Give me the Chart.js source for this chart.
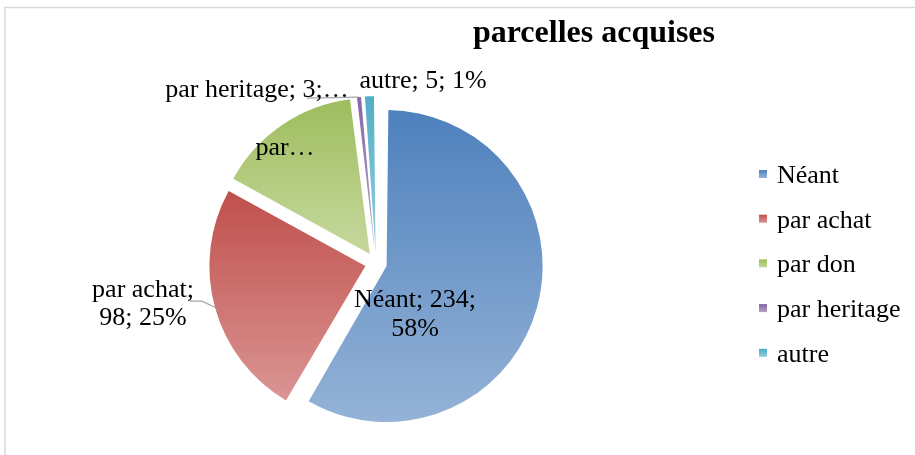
<!DOCTYPE html>
<html>
<head>
<meta charset="utf-8">
<script src="https://cdn.jsdelivr.net/npm/chart.js@4.4.1/dist/chart.umd.min.js"></script>
<style>
  body { margin: 0; background: #fff; }
  canvas { display: block; }
</style>
</head>
<body>
<canvas id="pie-chart" width="915" height="455"></canvas>
<script>
// données
const categories = ['Néant', 'par achat', 'par don', 'par heritage', 'autre'];
const values = [234, 98, 60, 3, 5];
const percents = [58, 25, 15, 1, 1];

// couleurs Excel (haut foncé -> bas clair)
const darkColors = ['#4F81BD', '#C0504D', '#9BBB59', '#8064A2', '#4BACC6'];
const lightColors = ['#95B3D7', '#DA9694', '#C4D79B', '#B3A2C7', '#93CDDD'];

const RADIUS = 156;
const OFFSET = 44;          // chart.js translate de offset / 4
const SHIFT = OFFSET / 4;
const FONT = '26px "Liberation Serif", "Times New Roman", serif';

// comment afficher chaque étiquette (coupure / troncature) et où
const labelStyle = [
    { split: [2, 1], dx: 39, dy: 44, lh: 29 },
    { split: [1, 2], dx: -233, dy: 34, lh: 28, leader: [[-186, 38], [-174, 38]] },
    { cut: 3, dx: -91, dy: -108 },
    { cut: 16, dx: -119, dy: -166, leader: [[-69, -165]] },
    { split: [3], dx: 47, dy: -175 }
];

function labelLines(i) {
    const parts = [categories[i], String(values[i]), percents[i] + '%'];
    const s = labelStyle[i];
    if (s.cut) return [parts.join('; ').slice(0, s.cut) + '…'];
    const lines = [];
    let k = 0;
    s.split.forEach((n) => {
        lines.push(parts.slice(k, k + n).join('; ') + (k + n < parts.length ? ';' : ''));
        k += n;
    });
    return lines;
}

// dégradé vertical sur la hauteur de chaque part
function sliceGradient(context) {
    const chart = context.chart;
    const area = chart.chartArea;
    const i = context.dataIndex;
    if (!area || i === undefined) return darkColors[i || 0];
    const total = values.reduce((a, b) => a + b, 0);
    const before = values.slice(0, i).reduce((a, b) => a + b, 0);
    const start = -Math.PI / 2 + before / total * 2 * Math.PI;
    const end = start + values[i] / total * 2 * Math.PI;
    const mid = (start + end) / 2;
    const cy = (area.top + area.bottom) / 2 + Math.sin(mid) * SHIFT;
    let top = cy, bottom = cy;
    for (let k = 0; k <= 60; k++) {
        const y = cy + Math.sin(start + (end - start) * k / 60) * RADIUS;
        top = Math.min(top, y);
        bottom = Math.max(bottom, y);
    }
    const g = chart.ctx.createLinearGradient(0, top, 0, bottom);
    g.addColorStop(0, darkColors[i]);
    g.addColorStop(1, lightColors[i]);
    return g;
}

const excelLook = {
    id: 'excelLook',
    beforeDraw(chart) {
        const ctx = chart.ctx;
        ctx.save();
        ctx.strokeStyle = '#D9D9D9';
        ctx.lineWidth = 1.5;
        ctx.beginPath();
        ctx.moveTo(5, 455);
        ctx.lineTo(5, 7.5);
        ctx.lineTo(915, 7.5);
        ctx.stroke();
        ctx.restore();
    },
    afterDatasetsUpdate(chart) {
        // garder le même rayon pour toutes les parts éclatées
        chart.getDatasetMeta(0).data.forEach((arc) => {
            const fix = 1 - Math.sin(Math.min(Math.PI, arc.circumference));
            arc.outerRadius = RADIUS - SHIFT * fix;
        });
    },
    afterDatasetsDraw(chart) {
        const ctx = chart.ctx;
        const arcs = chart.getDatasetMeta(0).data;
        ctx.save();
        ctx.font = FONT;
        ctx.fillStyle = '#000';
        ctx.textAlign = 'center';
        ctx.textBaseline = 'alphabetic';
        arcs.forEach((arc, i) => {
            const s = labelStyle[i];
            const cx = arc.x, cy = arc.y;
            if (s.leader) {
                const mid = (arc.startAngle + arc.endAngle) / 2;
                ctx.strokeStyle = '#A6A6A6';
                ctx.lineWidth = 1.2;
                ctx.beginPath();
                s.leader.forEach((p, k) => {
                    if (k === 0) ctx.moveTo(cx + p[0], cy + p[1]);
                    else ctx.lineTo(cx + p[0], cy + p[1]);
                });
                ctx.lineTo(cx + Math.cos(mid) * (RADIUS + SHIFT), cy + Math.sin(mid) * (RADIUS + SHIFT));
                ctx.stroke();
            }
            labelLines(i).forEach((line, k) => {
                ctx.fillText(line, cx + s.dx, cy + s.dy + k * (s.lh || 0));
            });
        });

        // légende
        categories.forEach((name, i) => {
            const y = 183 + i * 44.7;
            const g = ctx.createLinearGradient(0, y - 13, 0, y - 5);
            g.addColorStop(0, darkColors[i]);
            g.addColorStop(1, lightColors[i]);
            ctx.fillStyle = g;
            ctx.fillRect(759, y - 13, 8, 8);
            ctx.fillStyle = '#000';
            ctx.textAlign = 'left';
            ctx.fillText(name, 777, y);
        });
        ctx.restore();
    }
};

const ctx = document.getElementById('pie-chart').getContext('2d');
const myChart = new Chart(ctx, {
    type: 'pie',
    data: {
        labels: categories,
        datasets: [{
            data: values,
            backgroundColor: sliceGradient,
            borderWidth: 0,
            offset: OFFSET
        }]
    },
    options: {
        responsive: false,
        animation: false,
        radius: RADIUS,
        layout: { padding: { left: 37, right: 200, top: 0, bottom: 0 } },
        plugins: {
            legend: { display: false },
            tooltip: { enabled: false },
            title: {
                display: true,
                text: 'parcelles acquises',
                align: 'end',
                color: '#000',
                font: { family: '"Liberation Serif", "Times New Roman", serif', size: 32, weight: 'bold', lineHeight: 1.2 },
                padding: { top: 15, bottom: 18 }
            }
        }
    },
    plugins: [excelLook]
});
</script>
</body>
</html>
